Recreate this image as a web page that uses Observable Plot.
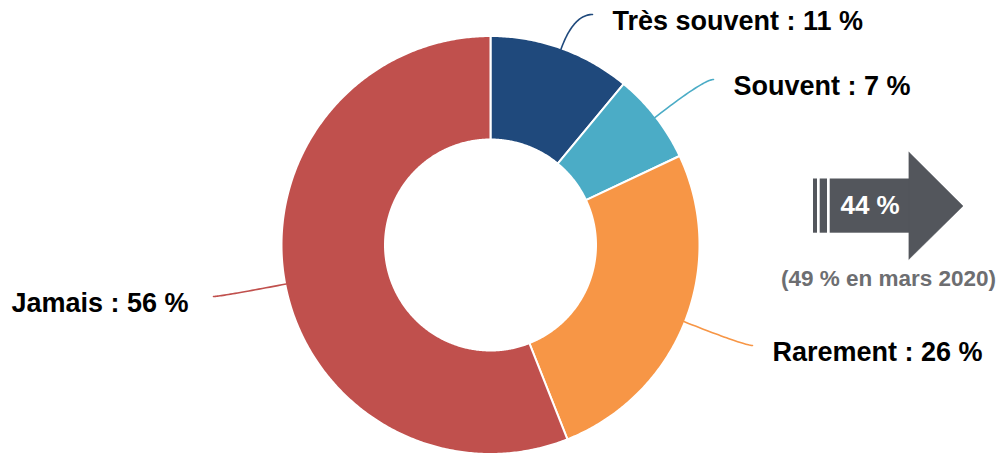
<!DOCTYPE html>
<html><head><meta charset="utf-8">
<script src="https://cdn.jsdelivr.net/npm/d3@7"></script>
<script src="https://cdn.jsdelivr.net/npm/@observablehq/plot@0.6"></script>
<style>
html,body{margin:0;padding:0;background:#fff}
svg{display:block}
</style>
</head><body><div id="chart"></div>
<script>
// ---- data ----
const categories = ["Très souvent", "Souvent", "Rarement", "Jamais"];
const shares = [11, 7, 26, 56];
const sliceColors = ["#1f497c", "#4bacc6", "#f79646", "#c0504d"];
const trendValue = 44;
const trendNote = "(49 % en mars 2020)";

// ---- layout ----
const W = 997, H = 454;
const cx = 490, cy = 244.5, R = 209, r0 = 105.5;
const labelEnds = [[592, 14], [713, 79], [752, 345], [213, 296]];
const labelSide = ["start", "start", "start", "end"];
const labelGap = 20;
const arrow = {x0: 813, bodyX: 829.7, headX: 908.5, tipX: 962.5, top: 178.5, bottom: 232.7, headTop: 151.7, headBottom: 258.7};
const arrowColor = "#53565c";
const font = "Liberation Sans, Arial, Helvetica, sans-serif";

// ---- derived geometry ----
const arcs = d3.pie().sort(null).value(d => d)(shares);
const pt = (a, rad) => [cx + rad * Math.sin(a), cy - rad * Math.cos(a)];

const wedgePts = [];
arcs.forEach((a, i) => {
  const n = Math.max(8, Math.ceil((a.endAngle - a.startAngle) / (Math.PI / 360)));
  for (let k = 0; k <= n; k++) {
    const t = a.startAngle + (a.endAngle - a.startAngle) * k / n;
    const [x, y] = pt(t, R);
    wedgePts.push({cat: categories[i], x, y});
  }
  for (let k = n; k >= 0; k--) {
    const t = a.startAngle + (a.endAngle - a.startAngle) * k / n;
    const [x, y] = pt(t, r0);
    wedgePts.push({cat: categories[i], x, y});
  }
});

const connPts = [];
const labels = [];
arcs.forEach((a, i) => {
  const mid = (a.startAngle + a.endAngle) / 2;
  const [x0, y0] = pt(mid, R - 1);
  const [ex, ey] = labelEnds[i];
  const dx = Math.sin(mid), dy = -Math.cos(mid);
  const t = (ey - y0) / dy;
  const c = [x0 + dx * t, ey];
  for (let k = 0; k <= 30; k++) {
    const u = k / 30;
    const x = (1 - u) * (1 - u) * x0 + 2 * (1 - u) * u * c[0] + u * u * ex;
    const y = (1 - u) * (1 - u) * y0 + 2 * (1 - u) * u * c[1] + u * u * ey;
    connPts.push({cat: categories[i], x, y});
  }
  labels.push({
    cat: categories[i],
    text: `${categories[i]} : ${shares[i]} %`,
    x: labelSide[i] === "start" ? ex + labelGap : ex - labelGap - 5,
    y: ey + 7,
    anchor: labelSide[i]
  });
});

const headPts = [
  {x: arrow.headX, y: arrow.headTop},
  {x: arrow.tipX, y: (arrow.top + arrow.bottom) / 2},
  {x: arrow.headX, y: arrow.headBottom}
];
const stripes = [
  {x1: arrow.x0, x2: arrow.x0 + 4},
  {x1: arrow.x0 + 6.7, x2: arrow.x0 + 14},
  {x1: arrow.bodyX, x2: arrow.headX + 1}
];

const labelStyle = {x: "x", y: "y", text: "text", fontSize: 27, fontWeight: "bold", fill: "#000", fontFamily: font};

const chart = Plot.plot({
  width: W, height: H,
  margin: 0,
  x: {domain: [0, W], range: [0, W], axis: null},
  y: {domain: [0, H], range: [0, H], axis: null},
  color: {domain: categories, range: sliceColors},
  style: {fontFamily: font, background: "#fff"},
  marks: [
    Plot.line(wedgePts, {x: "x", y: "y", z: "cat", fill: "cat", stroke: "#fff", strokeWidth: 2, curve: "linear-closed"}),
    Plot.line(connPts, {x: "x", y: "y", z: "cat", stroke: "cat", strokeWidth: 1.6, curve: "linear"}),
    Plot.text(labels.filter(d => d.anchor === "start"), {...labelStyle, textAnchor: "start"}),
    Plot.text(labels.filter(d => d.anchor === "end"), {...labelStyle, textAnchor: "end"}),
    Plot.rectY(stripes, {x1: "x1", x2: "x2", y1: arrow.top, y2: arrow.bottom, fill: arrowColor, inset: 0}),
    Plot.line(headPts, {x: "x", y: "y", fill: arrowColor, stroke: arrowColor, strokeWidth: 0.5, curve: "linear-closed"}),
    Plot.text([`${trendValue} %`], {x: (arrow.bodyX + arrow.headX) / 2 + 0.5, y: (arrow.top + arrow.bottom) / 2, text: d => d, fontSize: 26, fontWeight: "bold", fill: "#fff", fontFamily: font}),
    Plot.text([trendNote], {x: 888, y: 278, text: d => d, fontSize: 22.5, fontWeight: "bold", fill: "#6d6e71", fontFamily: font})
  ]
});
document.getElementById("chart").appendChild(chart);
</script>
</body></html>
